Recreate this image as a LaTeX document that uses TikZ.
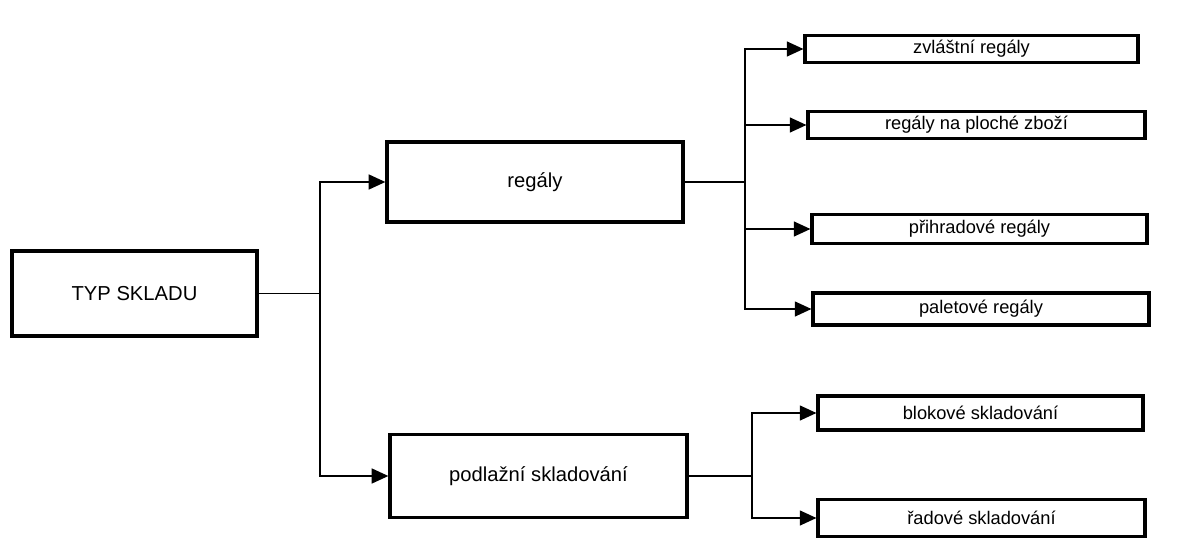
\documentclass[tikz,border=0pt]{standalone}
\usepackage{fontspec}
\setmainfont{Liberation Sans}
\usetikzlibrary{arrows.meta}
\begin{document}
\begin{tikzpicture}[x=0.02cm,y=-0.02cm,
  bigbox/.style={draw, line width=1.9pt, inner sep=0pt, font=\fontsize{11.5}{13}\selectfont},
  smallbox/.style={draw, line width=1.8pt, inner sep=0pt, font=\fontsize{10.4}{12}\selectfont},
  conn/.style={line width=1pt},
  arr/.style={conn, -{Triangle[length=9.5pt,width=8.5pt]}}]
\useasboundingbox (0,0) rectangle (1179,544);
% main boxes
\node[bigbox, minimum width=4.9cm, minimum height=1.7cm] (typ) at (134.5,293.5) {TYP SKLADU};
\node[bigbox, minimum width=5.92cm, minimum height=1.6cm] (reg) at (535,182) {regály};
\node[bigbox, minimum width=5.94cm, minimum height=1.66cm] (pod) at (538.5,476) {podlažní skladování};
% small boxes
\node[smallbox, minimum width=6.66cm, minimum height=0.54cm] (zv) at (971.5,49) {zvláštní regály};
\node[smallbox, minimum width=6.74cm, minimum height=0.54cm] (pl) at (976.5,125) {regály na ploché zboží};
\node[smallbox, minimum width=6.7cm, minimum height=0.58cm] (pr) at (979.5,229) {přihradové regály};
\node[smallbox, minimum width=6.72cm, minimum height=0.64cm] (pa) at (981,309) {paletové regály};
\node[smallbox, minimum width=6.5cm, minimum height=0.68cm] (bl) at (980.5,413) {blokové skladování};
\node[smallbox, minimum width=6.54cm, minimum height=0.74cm] (ra) at (981.5,518) {řadové skladování};
% junctions
\coordinate (j0) at (320,293.5);
\coordinate (j1) at (745,182);
\coordinate (j2) at (752,476);
% connectors
\draw[conn] (typ.east) -- (j0);
\draw[arr] (j0) |- (reg.west);
\draw[arr] (j0) |- (pod.west);
\draw[conn] (reg.east) -- (j1);
\draw[arr] (j1) |- (zv.west);
\draw[arr] (j1) |- (pl.west);
\draw[arr] (j1) |- (pr.west);
\draw[arr] (j1) |- (pa.west);
\draw[conn] (pod.east) -- (j2);
\draw[arr] (j2) |- (bl.west);
\draw[arr] (j2) |- (ra.west);
\end{tikzpicture}
\end{document}
